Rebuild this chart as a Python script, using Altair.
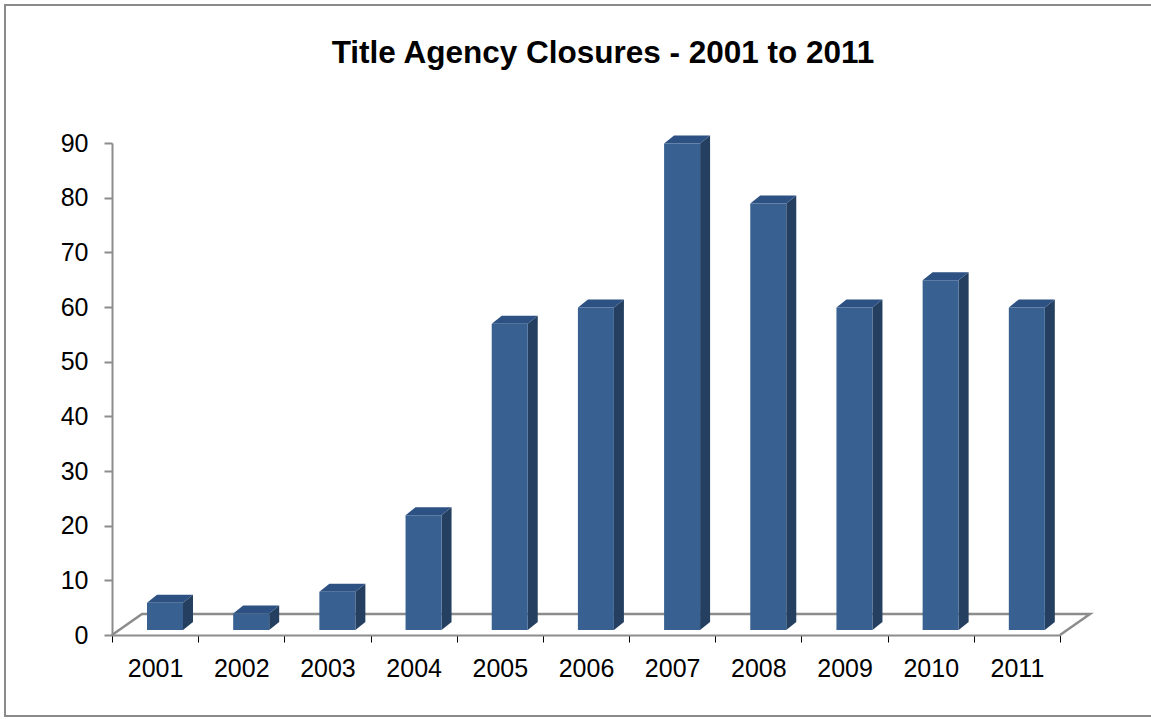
import altair as alt
import pandas as pd

# ---- data ----
years = [2001, 2002, 2003, 2004, 2005, 2006, 2007, 2008, 2009, 2010, 2011]
closures = [5, 3, 7, 21, 56, 59, 89, 78, 59, 64, 59]
y_ticks = [0, 10, 20, 30, 40, 50, 60, 70, 80, 90]
title_text = "Title Agency Closures - 2001 to 2011"

# ---- geometry of the fake 3-D look (in scale units) ----
W, H = 948, 492
N = len(years)
KX = W / N          # px per category
KY = H / 90.0       # px per value unit
FL = 35 / KX        # front face left inside band
FR = 71 / KX        # front face right inside band
DX = 10 / KX        # depth shift (x)
DY = 8 / KY         # depth shift (y)
BASE = 5 / KY       # bar bottom above front axis line
FDX = 30 / KX       # floor depth shift x
FDY = 21 / KY       # floor depth shift y

FRONT = "#386192"
SIDE = "#243F60"
TOP = "#2D5182"
GREY = "#8C8C8C"

front_rows, side_rows, top_rows = [], [], []
for i, (yr, v) in enumerate(zip(years, closures)):
    front_rows.append({"bar": yr, "x": i + FL, "x2": i + FR, "y": BASE, "y2": v + BASE})
    side_rows.append({"bar": yr, "x": i + FR, "y": BASE, "y2": v + BASE})
    side_rows.append({"bar": yr, "x": i + FR + DX, "y": BASE + DY, "y2": v + BASE + DY})
    top_rows.append({"bar": yr, "y": v + BASE, "x": i + FL, "x2": i + FR})
    top_rows.append({"bar": yr, "y": v + BASE + DY, "x": i + FL + DX, "x2": i + FR + DX})

front_df = pd.DataFrame(front_rows)
side_df = pd.DataFrame(side_rows)
top_df = pd.DataFrame(top_rows)

floor_df = pd.DataFrame({
    "x": [0, FDX, N + FDX, N],
    "y": [0, FDY, FDY, 0],
    "o": [0, 1, 2, 3],
})

xs = alt.Scale(domain=[0, N], nice=False, zero=False)
ys = alt.Scale(domain=[0, 90], nice=False, zero=True)

x_axis = alt.Axis(values=list(range(N + 1)),
                  labelExpr=f"datum.value < {N} ? toString({years[0]} + datum.value) : ''",
                  labelOffset=KX / 2, labelFontSize=25, labelFont="Liberation Sans",
                  labelColor="#000000", labelPadding=14, tickColor="#000000",
                  tickSize=7, tickWidth=1, domainColor=GREY, domainWidth=2,
                  grid=False, labelFlush=False, labelOverlap=False, title=None)
y_axis = alt.Axis(values=y_ticks, labelFontSize=25, labelFont="Liberation Sans",
                  labelColor="#000000", labelPadding=16, tickColor=GREY,
                  tickSize=8, tickWidth=2, domainColor=GREY, domainWidth=2,
                  grid=False, title=None)

floor = alt.Chart(floor_df).mark_line(color=GREY, strokeWidth=2.5).encode(
    x=alt.X("x:Q", scale=xs, axis=x_axis, title=None),
    y=alt.Y("y:Q", scale=ys, axis=y_axis, title=None),
    order="o:Q",
)

side = alt.Chart(side_df).mark_area(color=SIDE).encode(
    x=alt.X("x:Q", scale=xs, axis=x_axis, title=None),
    y=alt.Y("y:Q", scale=ys, axis=y_axis, title=None, stack=False),
    y2="y2:Q",
    detail="bar:N",
)

top = alt.Chart(top_df).mark_area(color=TOP, orient="horizontal").encode(
    y=alt.Y("y:Q", scale=ys, axis=y_axis, title=None),
    x=alt.X("x:Q", scale=xs, axis=x_axis, title=None, stack=False),
    x2="x2:Q",
    detail="bar:N",
)

front = alt.Chart(front_df).mark_rect(color=FRONT).encode(
    x=alt.X("x:Q", scale=xs, axis=x_axis, title=None),
    x2="x2:Q",
    y=alt.Y("y:Q", scale=ys, axis=y_axis, title=None),
    y2="y2:Q",
)

one = pd.DataFrame({"t": [title_text]})
title = alt.Chart(one).mark_text(font="Liberation Sans", fontSize=31.5, fontWeight="bold",
                                 color="#000000", align="center", baseline="alphabetic").encode(
    text="t:N", x=alt.value(491), y=alt.value(-80))

border = alt.Chart(one).mark_rect(fill="transparent", stroke="#8A8A8A", strokeWidth=2).encode(
    x=alt.value(-107), x2=alt.value(1041), y=alt.value(-138), y2=alt.value(573))

chart = alt.layer(border, floor, side, top, front, title).properties(
    width=W, height=H,
    autosize=alt.AutoSizeParams(type="none"),
    padding={"left": 112, "top": 143, "right": 1151 - 112 - W, "bottom": 719 - 143 - H},
    background="#FFFFFF",
).configure_view(stroke=None)

chart.save("out.html", embed_options={"renderer": "svg", "actions": False})
